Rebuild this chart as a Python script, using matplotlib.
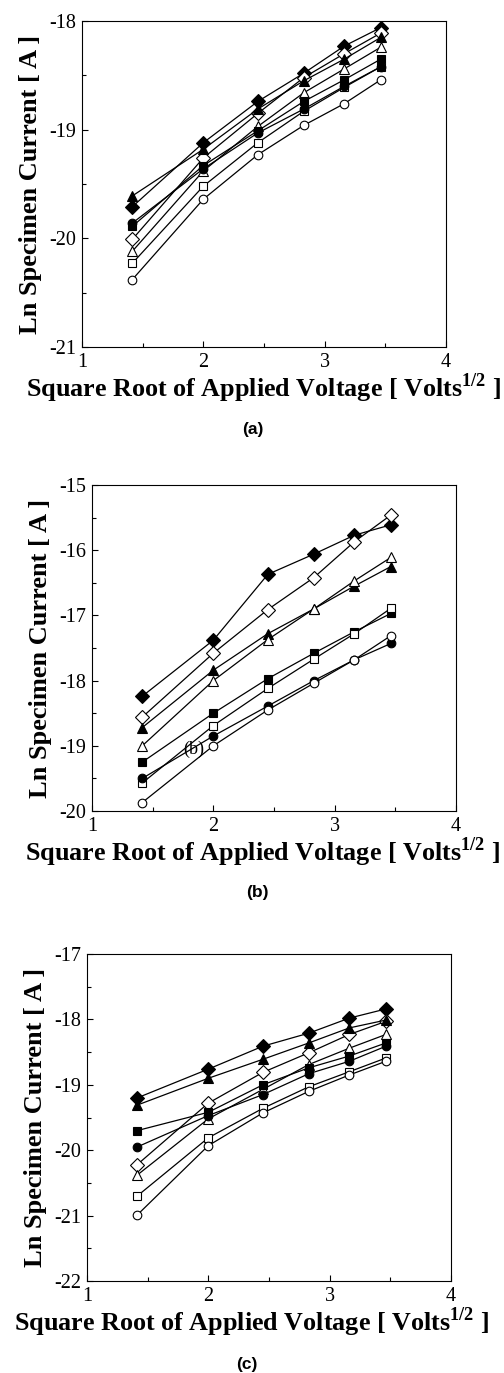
import numpy as np
import matplotlib
matplotlib.use("Agg")
import matplotlib.pyplot as plt
from matplotlib.ticker import MultipleLocator

plt.rcParams['font.family'] = ['Liberation Serif', 'DejaVu Serif']
plt.rcParams['mathtext.fontset'] = 'custom'
plt.rcParams['mathtext.rm'] = 'Liberation Serif'
plt.rcParams['mathtext.bf'] = 'Liberation Serif:bold'
plt.rcParams['axes.unicode_minus'] = False

# applied voltage 2..12 V -> square root on the x axis
voltage = [2, 4, 6, 8, 10, 12]
sqrt_v = np.sqrt(voltage)

# series keys: f = filled, o = open
series_names = ["f_diamond", "o_diamond", "f_triangle", "o_triangle",
                "f_square", "o_square", "f_circle", "o_circle"]

# panel (a)
a_f_diamond = [-19.71, -19.12, -18.74, -18.48, -18.23, -18.06]
a_o_diamond = [-20.01, -19.26, -18.85, -18.52, -18.30, -18.11]
a_f_triangle = [-19.61, -19.18, -18.81, -18.55, -18.35, -18.15]
a_o_triangle = [-20.12, -19.38, -18.97, -18.66, -18.44, -18.24]
a_f_square = [-19.89, -19.33, -19.01, -18.74, -18.54, -18.35]
a_o_square = [-20.23, -19.52, -19.12, -18.83, -18.61, -18.42]
a_f_circle = [-19.86, -19.36, -19.03, -18.81, -18.60, -18.42]
a_o_circle = [-20.38, -19.64, -19.23, -18.96, -18.76, -18.54]

# panel (b)
b_f_diamond = [-18.24, -17.38, -16.37, -16.06, -15.77, -15.61]
b_o_diamond = [-18.56, -17.58, -16.91, -16.42, -15.87, -15.46]
b_f_triangle = [-18.72, -17.84, -17.28, -16.90, -16.55, -16.25]
b_o_triangle = [-19.00, -18.00, -17.37, -16.90, -16.47, -16.11]
b_f_square = [-19.25, -18.50, -17.97, -17.58, -17.25, -16.97]
b_o_square = [-19.57, -18.69, -18.12, -17.67, -17.28, -16.89]
b_f_circle = [-19.50, -18.85, -18.39, -18.00, -17.68, -17.43]
b_o_circle = [-19.87, -19.00, -18.45, -18.04, -17.68, -17.31]

# panel (c)
c_f_diamond = [-19.20, -18.76, -18.41, -18.21, -17.98, -17.84]
c_o_diamond = [-20.22, -19.28, -18.81, -18.51, -18.23, -18.03]
c_f_triangle = [-19.31, -18.90, -18.61, -18.36, -18.13, -18.01]
c_o_triangle = [-20.38, -19.52, -19.07, -18.69, -18.44, -18.23]
c_f_square = [-19.70, -19.42, -19.00, -18.74, -18.56, -18.36]
c_o_square = [-20.70, -19.81, -19.36, -19.03, -18.80, -18.59]
c_f_circle = [-19.95, -19.47, -19.15, -18.83, -18.64, -18.41]
c_o_circle = [-20.99, -19.93, -19.43, -19.10, -18.85, -18.64]

panels = [
    ("(a)", [a_f_diamond, a_o_diamond, a_f_triangle, a_o_triangle,
             a_f_square, a_o_square, a_f_circle, a_o_circle], (-21, -18)),
    ("(b)", [b_f_diamond, b_o_diamond, b_f_triangle, b_o_triangle,
             b_f_square, b_o_square, b_f_circle, b_o_circle], (-20, -15)),
    ("(c)", [c_f_diamond, c_o_diamond, c_f_triangle, c_o_triangle,
             c_f_square, c_o_square, c_f_circle, c_o_circle], (-22, -17)),
]

marker_style = {
    "f_diamond": ("D", "black", 7.0),
    "o_diamond": ("D", "white", 6.8),
    "f_triangle": ("^", "black", 7.0),
    "o_triangle": ("^", "white", 7.0),
    "f_square": ("s", "black", 6.4),
    "o_square": ("s", "white", 6.4),
    "f_circle": ("o", "black", 6.2),
    "o_circle": ("o", "white", 6.2),
}

# axes boxes in pixels: left, top, right, bottom
boxes = [(82, 21, 446, 347), (92, 485, 456, 811), (87, 954, 451, 1281)]
label_pos = [(253, 430), (257, 892), (247, 1365)]
xlabel_center = [264, 263, 252]

W, H = 504, 1373
fig = plt.figure(figsize=(W / 100, H / 100), dpi=100)

for (tag, data, ylim), (l, t, r, b), (lx, ly), xc in zip(panels, boxes, label_pos, xlabel_center):
    ax = fig.add_axes([l / W, 1 - b / H, (r - l) / W, (b - t) / H])
    for name, yv in zip(series_names, data):
        m, fc, ms = marker_style[name]
        ax.plot(sqrt_v, yv, color="black", lw=0.9, marker=m, ms=ms,
                mfc=fc, mec="black", mew=0.8)
    ax.set_xlim(1, 4)
    ax.set_ylim(*ylim)
    ax.xaxis.set_major_locator(MultipleLocator(1))
    ax.xaxis.set_minor_locator(MultipleLocator(0.5))
    ax.yaxis.set_major_locator(MultipleLocator(1))
    ax.yaxis.set_minor_locator(MultipleLocator(0.5))
    ax.tick_params(which="both", direction="in", top=False, right=False,
                   labelsize=14.5)
    ax.tick_params(which="major", length=4, width=0.8)
    ax.tick_params(which="minor", length=3, width=0.8)
    ax.tick_params(axis="x", pad=4)
    ax.tick_params(axis="y", pad=4)
    for sp in ax.spines.values():
        sp.set_linewidth(0.8)
    ax.set_xlabel(r"Square Root of Applied Voltage [ Volts$^{\mathbf{1/2}}$ ]",
                  fontsize=18.8, fontweight="bold", labelpad=0)
    ax.xaxis.label.set_x((xc - l) / (r - l))
    ax.set_ylabel("Ln Specimen Current [ A ]", fontsize=19,
                  fontweight="bold", labelpad=5)
    fig.text(lx / W, 1 - ly / H, tag, ha="center", va="center",
             family=["Liberation Sans"], fontweight="bold", fontsize=12.5)
    if tag == "(b)":
        ax.text(1.84, -19.06, "(b)", ha="center", va="center", fontsize=13)

fig.savefig("out.png", dpi=100)
